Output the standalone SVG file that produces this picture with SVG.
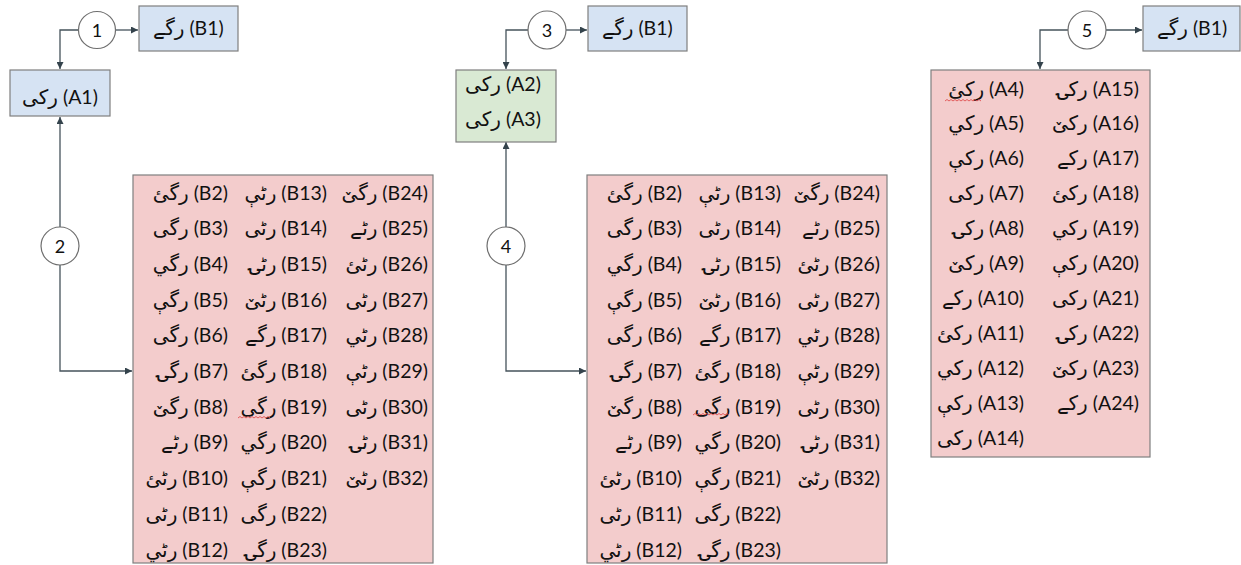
<svg xmlns="http://www.w3.org/2000/svg" width="1241" height="565" viewBox="0 0 1241 565">
<defs>
<marker id="arr" viewBox="0 0 10 10" refX="10" refY="5" markerWidth="9" markerHeight="7" markerUnits="userSpaceOnUse" orient="auto">
<path d="M0,0 L10,5 L0,10 z" fill="#34434c"/>
</marker>
<style>
.blue{fill:#d6e3f3;stroke:#7f7f7f;stroke-width:1.2}
.green{fill:#d9e9d3;stroke:#7f7f7f;stroke-width:1.2}
.pink{fill:#f3cccc;stroke:#7f7f7f;stroke-width:1.2}
.circ{fill:#ffffff;stroke:#6f6f6f;stroke-width:1.2}
.con{fill:none;stroke:#45535b;stroke-width:1.3}
text{font-family:Lato,"DejaVu Sans",sans-serif;font-size:19.5px;fill:#111111}
.ar{font-family:"DejaVu Sans",sans-serif;font-size:20px}
.num{font-size:18px;text-anchor:middle}
.c{text-anchor:middle}
.e{text-anchor:end}
.sq{fill:none;stroke:#e05050;stroke-width:0.9}
</style>
</defs>

<g id="connectors">
<path class="con" d="M79 30 H60 V69" marker-end="url(#arr)"/>
<path class="con" d="M116 30 H138" marker-end="url(#arr)"/>
<path class="con" d="M60 227 V117" marker-end="url(#arr)"/>
<path class="con" d="M60 265 V371 H132" marker-end="url(#arr)"/>
<path class="con" d="M528 30 H506 V69" marker-end="url(#arr)"/>
<path class="con" d="M566 30 H587" marker-end="url(#arr)"/>
<path class="con" d="M506 227 V142" marker-end="url(#arr)"/>
<path class="con" d="M506 265 V371 H586" marker-end="url(#arr)"/>
<path class="con" d="M1068 30 H1040 V69" marker-end="url(#arr)"/>
<path class="con" d="M1106 30 H1142" marker-end="url(#arr)"/>
</g>

<g id="c1"><circle class="circ" cx="97" cy="30" r="18.5"/><text class="num" x="97" y="36.5">1</text></g>
<g id="c2"><circle class="circ" cx="60" cy="246" r="19"/><text class="num" x="60" y="252.5">2</text></g>
<g id="c3"><circle class="circ" cx="547" cy="30" r="19"/><text class="num" x="547" y="36.5">3</text></g>
<g id="c4"><circle class="circ" cx="506" cy="246" r="19"/><text class="num" x="506" y="252.5">4</text></g>
<g id="c5"><circle class="circ" cx="1087" cy="30" r="19"/><text class="num" x="1087" y="36.5">5</text></g>

<g id="b1-1"><rect class="blue" x="139" y="6" width="99" height="45"/><text class="c" x="188.5" y="35"><tspan class="ar">رگے</tspan> (B1)</text></g>
<g id="a1"><rect class="blue" x="10" y="70" width="100" height="46"/><text class="c" x="60" y="104"><tspan class="ar">رکی</tspan> (A1)</text></g>

<g id="b1-2"><rect class="blue" x="588" y="6" width="99" height="45"/><text class="c" x="637.5" y="35"><tspan class="ar">رگے</tspan> (B1)</text></g>
<g id="a2a3"><rect class="green" x="456" y="70" width="100" height="72"/>
<text class="c" x="503" y="91"><tspan class="ar">رکی</tspan> (A2)</text>
<text class="c" x="503" y="126"><tspan class="ar">رکی</tspan> (A3)</text></g>

<g id="b1-3"><rect class="blue" x="1143" y="6" width="97" height="45"/><text class="c" x="1192" y="35"><tspan class="ar">رگے</tspan> (B1)</text></g>

<g id="box1"><rect class="pink" x="133" y="175" width="300" height="388"/>
<text class="e" x="228" y="199.5"><tspan class="ar">رگئ</tspan> (B2)</text>
<text class="e" x="228" y="235.2"><tspan class="ar">رگی</tspan> (B3)</text>
<text class="e" x="228" y="270.9"><tspan class="ar">رگي</tspan> (B4)</text>
<text class="e" x="228" y="306.6"><tspan class="ar">رگې</tspan> (B5)</text>
<text class="e" x="228" y="342.3"><tspan class="ar">رگى</tspan> (B6)</text>
<text class="e" x="228" y="378"><tspan class="ar">رگۍ</tspan> (B7)</text>
<text class="e" x="228" y="413.7"><tspan class="ar">رگێ</tspan> (B8)</text>
<text class="e" x="228" y="449.4"><tspan class="ar">رٹے</tspan> (B9)</text>
<text class="e" x="228" y="485.1"><tspan class="ar">رٹئ</tspan> (B10)</text>
<text class="e" x="228" y="520.8"><tspan class="ar">رٹی</tspan> (B11)</text>
<text class="e" x="228" y="556.5"><tspan class="ar">رٹي</tspan> (B12)</text>
<text class="e" x="327" y="199.5"><tspan class="ar">رٹې</tspan> (B13)</text>
<text class="e" x="327" y="235.2"><tspan class="ar">رٹى</tspan> (B14)</text>
<text class="e" x="327" y="270.9"><tspan class="ar">رٹۍ</tspan> (B15)</text>
<text class="e" x="327" y="306.6"><tspan class="ar">رٹێ</tspan> (B16)</text>
<text class="e" x="327" y="342.3"><tspan class="ar">رگے</tspan> (B17)</text>
<text class="e" x="327" y="378"><tspan class="ar">رگئ</tspan> (B18)</text>
<text class="e" x="327" y="413.7"><tspan class="ar">رگی</tspan> (B19)</text>
<text class="e" x="327" y="449.4"><tspan class="ar">رگي</tspan> (B20)</text>
<text class="e" x="327" y="485.1"><tspan class="ar">رگې</tspan> (B21)</text>
<text class="e" x="327" y="520.8"><tspan class="ar">رگى</tspan> (B22)</text>
<text class="e" x="327" y="556.5"><tspan class="ar">رگۍ</tspan> (B23)</text>
<text class="e" x="428" y="199.5"><tspan class="ar">رگێ</tspan> (B24)</text>
<text class="e" x="428" y="235.2"><tspan class="ar">رٹے</tspan> (B25)</text>
<text class="e" x="428" y="270.9"><tspan class="ar">رٹئ</tspan> (B26)</text>
<text class="e" x="428" y="306.6"><tspan class="ar">رٹی</tspan> (B27)</text>
<text class="e" x="428" y="342.3"><tspan class="ar">رٹي</tspan> (B28)</text>
<text class="e" x="428" y="378"><tspan class="ar">رٹې</tspan> (B29)</text>
<text class="e" x="428" y="413.7"><tspan class="ar">رٹى</tspan> (B30)</text>
<text class="e" x="428" y="449.4"><tspan class="ar">رٹۍ</tspan> (B31)</text>
<text class="e" x="428" y="485.1"><tspan class="ar">رٹێ</tspan> (B32)</text>
<path class="sq" d="M238 418 l2 -1.5 l2 1.5 l2 -1.5 l2 1.5 l2 -1.5 l2 1.5 l2 -1.5 l2 1.5 l2 -1.5 l2 1.5 l2 -1.5 l2 1.5 l2 -1.5 l2 1.5 l2 -1.5 l2 1.5"/>
</g>

<g id="box2"><rect class="pink" x="587" y="175" width="300" height="388"/>
<text class="e" x="682" y="199.5"><tspan class="ar">رگئ</tspan> (B2)</text>
<text class="e" x="682" y="235.2"><tspan class="ar">رگی</tspan> (B3)</text>
<text class="e" x="682" y="270.9"><tspan class="ar">رگي</tspan> (B4)</text>
<text class="e" x="682" y="306.6"><tspan class="ar">رگې</tspan> (B5)</text>
<text class="e" x="682" y="342.3"><tspan class="ar">رگى</tspan> (B6)</text>
<text class="e" x="682" y="378"><tspan class="ar">رگۍ</tspan> (B7)</text>
<text class="e" x="682" y="413.7"><tspan class="ar">رگێ</tspan> (B8)</text>
<text class="e" x="682" y="449.4"><tspan class="ar">رٹے</tspan> (B9)</text>
<text class="e" x="682" y="485.1"><tspan class="ar">رٹئ</tspan> (B10)</text>
<text class="e" x="682" y="520.8"><tspan class="ar">رٹی</tspan> (B11)</text>
<text class="e" x="682" y="556.5"><tspan class="ar">رٹي</tspan> (B12)</text>
<text class="e" x="781" y="199.5"><tspan class="ar">رٹې</tspan> (B13)</text>
<text class="e" x="781" y="235.2"><tspan class="ar">رٹى</tspan> (B14)</text>
<text class="e" x="781" y="270.9"><tspan class="ar">رٹۍ</tspan> (B15)</text>
<text class="e" x="781" y="306.6"><tspan class="ar">رٹێ</tspan> (B16)</text>
<text class="e" x="781" y="342.3"><tspan class="ar">رگے</tspan> (B17)</text>
<text class="e" x="781" y="378"><tspan class="ar">رگئ</tspan> (B18)</text>
<text class="e" x="781" y="413.7"><tspan class="ar">رگی</tspan> (B19)</text>
<text class="e" x="781" y="449.4"><tspan class="ar">رگي</tspan> (B20)</text>
<text class="e" x="781" y="485.1"><tspan class="ar">رگې</tspan> (B21)</text>
<text class="e" x="781" y="520.8"><tspan class="ar">رگى</tspan> (B22)</text>
<text class="e" x="781" y="556.5"><tspan class="ar">رگۍ</tspan> (B23)</text>
<text class="e" x="880" y="199.5"><tspan class="ar">رگێ</tspan> (B24)</text>
<text class="e" x="880" y="235.2"><tspan class="ar">رٹے</tspan> (B25)</text>
<text class="e" x="880" y="270.9"><tspan class="ar">رٹئ</tspan> (B26)</text>
<text class="e" x="880" y="306.6"><tspan class="ar">رٹی</tspan> (B27)</text>
<text class="e" x="880" y="342.3"><tspan class="ar">رٹي</tspan> (B28)</text>
<text class="e" x="880" y="378"><tspan class="ar">رٹې</tspan> (B29)</text>
<text class="e" x="880" y="413.7"><tspan class="ar">رٹى</tspan> (B30)</text>
<text class="e" x="880" y="449.4"><tspan class="ar">رٹۍ</tspan> (B31)</text>
<text class="e" x="880" y="485.1"><tspan class="ar">رٹێ</tspan> (B32)</text>
<path class="sq" d="M693 415 l2 -1.5 l2 1.5 l2 -1.5 l2 1.5 l2 -1.5 l2 1.5 l2 -1.5 l2 1.5 l2 -1.5 l2 1.5 l2 -1.5 l2 1.5 l2 -1.5 l2 1.5 l2 -1.5 l2 1.5 l2 -1.5 l2 1.5"/>
</g>

<g id="box3"><rect class="pink" x="931" y="70" width="219" height="387"/>
<text class="e" x="1024" y="95.5"><tspan class="ar">رکئ</tspan> (A4)</text>
<text class="e" x="1024" y="130.4"><tspan class="ar">رکي</tspan> (A5)</text>
<text class="e" x="1024" y="165.3"><tspan class="ar">رکې</tspan> (A6)</text>
<text class="e" x="1024" y="200.2"><tspan class="ar">رکى</tspan> (A7)</text>
<text class="e" x="1024" y="235.1"><tspan class="ar">رکۍ</tspan> (A8)</text>
<text class="e" x="1024" y="270"><tspan class="ar">رکێ</tspan> (A9)</text>
<text class="e" x="1024" y="304.9"><tspan class="ar">رکے</tspan> (A10)</text>
<text class="e" x="1024" y="339.8"><tspan class="ar">رکئ</tspan> (A11)</text>
<text class="e" x="1024" y="374.7"><tspan class="ar">رکي</tspan> (A12)</text>
<text class="e" x="1024" y="409.6"><tspan class="ar">رکې</tspan> (A13)</text>
<text class="e" x="1024" y="444.5"><tspan class="ar">رکى</tspan> (A14)</text>
<text class="e" x="1139" y="95.5"><tspan class="ar">رکۍ</tspan> (A15)</text>
<text class="e" x="1139" y="130.4"><tspan class="ar">رکێ</tspan> (A16)</text>
<text class="e" x="1139" y="165.3"><tspan class="ar">رکے</tspan> (A17)</text>
<text class="e" x="1139" y="200.2"><tspan class="ar">رکئ</tspan> (A18)</text>
<text class="e" x="1139" y="235.1"><tspan class="ar">رکي</tspan> (A19)</text>
<text class="e" x="1139" y="270"><tspan class="ar">رکې</tspan> (A20)</text>
<text class="e" x="1139" y="304.9"><tspan class="ar">رکى</tspan> (A21)</text>
<text class="e" x="1139" y="339.8"><tspan class="ar">رکۍ</tspan> (A22)</text>
<text class="e" x="1139" y="374.7"><tspan class="ar">رکێ</tspan> (A23)</text>
<text class="e" x="1139" y="409.6"><tspan class="ar">رکے</tspan> (A24)</text>
<path class="sq" d="M945 101 l2 -1.5 l2 1.5 l2 -1.5 l2 1.5 l2 -1.5 l2 1.5 l2 -1.5 l2 1.5 l2 -1.5 l2 1.5 l2 -1.5 l2 1.5 l2 -1.5 l2 1.5 l2 -1.5 l2 1.5 l2 -1.5 l2 1.5"/>
</g>
</svg>
